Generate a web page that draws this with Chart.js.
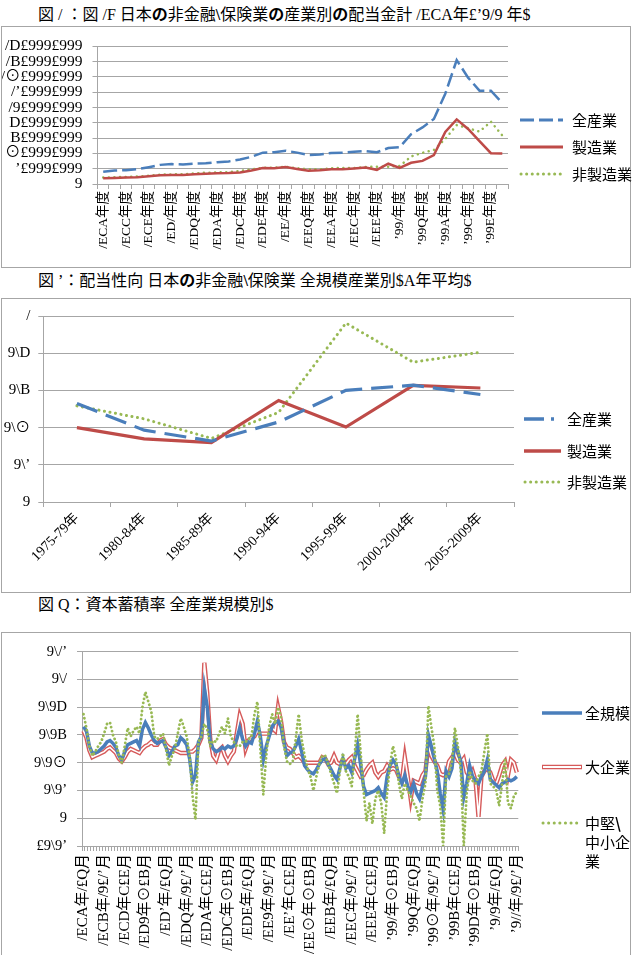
<!DOCTYPE html>
<html lang="ja">
<head>
<meta charset="utf-8">
<script src="https://cdn.jsdelivr.net/npm/chart.js@4.4.1/dist/chart.umd.min.js"></script>
<style>
  body { margin: 0; width: 632px; height: 955px; overflow: hidden; background: #fff; position: relative;
         font-family: 'Liberation Serif', 'Noto Sans CJK JP', serif; color: #000; }
  .title { position: absolute; left: 38px; font-size: 16px; line-height: 20px; white-space: nowrap; }
  .box { position: absolute; left: 1px; width: 628px; border: 1px solid #a6a6a6; background: #fff; }
  .box canvas { position: absolute; left: 0; top: 0; }
  .leg { position: absolute; font-family: 'Noto Sans CJK JP', sans-serif; font-size: 15px; line-height: 19px; white-space: nowrap; }
  #legendLines { position: absolute; left: 0; top: 0; }
</style>
</head>
<body>

<div class="title" style="top:5px">図 / ：図 /F 日本<b>の</b>非金融<b>\</b>保険業<b>の</b>産業別<b>の</b>配当金計 /ECA年£ʼ9/9 年$</div>
<div class="box" style="top:26px;height:240px"><canvas id="chart1" width="628" height="240"></canvas></div>

<div class="title" style="top:271px">図 ʼ：配当性向 日本<b>の</b>非金融<b>\</b>保険業 全規模産業別$A年平均$</div>
<div class="box" style="top:298px;height:293px"><canvas id="chart2" width="628" height="293"></canvas></div>

<div class="title" style="top:595px">図 Q：資本蓄積率 全産業規模別$</div>
<div class="box" style="top:632px;height:330px"><canvas id="chart3" width="628" height="322"></canvas></div>

<svg id="legendLines" width="632" height="955">
  <!-- chart 1 -->
  <line x1="520" y1="120" x2="563" y2="120" stroke="#4a7ebb" stroke-width="3" stroke-dasharray="14 5"/>
  <line x1="520" y1="147" x2="563" y2="147" stroke="#be4b48" stroke-width="3"/>
  <line x1="521" y1="174" x2="563" y2="174" stroke="#98b954" stroke-width="3" stroke-dasharray="0.1 5.5" stroke-linecap="round"/>
  <!-- chart 2 -->
  <line x1="524" y1="419" x2="561" y2="419" stroke="#4a7ebb" stroke-width="3.5" stroke-dasharray="20 7 3 7"/>
  <line x1="524" y1="451" x2="561" y2="451" stroke="#be4b48" stroke-width="3.5"/>
  <line x1="525" y1="482" x2="561" y2="482" stroke="#98b954" stroke-width="3" stroke-dasharray="0.1 5.5" stroke-linecap="round"/>
  <!-- chart 3 -->
  <line x1="542" y1="713" x2="582" y2="713" stroke="#4a7ebb" stroke-width="3.5"/>
  <line x1="542" y1="767" x2="582" y2="767" stroke="#d65a5a" stroke-width="4.5"/>
  <line x1="543" y1="767" x2="581" y2="767" stroke="#fff" stroke-width="1.8"/>
  <line x1="543" y1="823" x2="582" y2="823" stroke="#98b954" stroke-width="3" stroke-dasharray="0.1 5.5" stroke-linecap="round"/>
</svg>

<div class="leg" style="left:572px;top:110px">全産業</div>
<div class="leg" style="left:572px;top:137px">製造業</div>
<div class="leg" style="left:572px;top:164px">非製造業</div>

<div class="leg" style="left:567px;top:409px">全産業</div>
<div class="leg" style="left:567px;top:441px">製造業</div>
<div class="leg" style="left:567px;top:472px">非製造業</div>

<div class="leg" style="left:585px;top:703px">全規模</div>
<div class="leg" style="left:585px;top:757px">大企業</div>
<div class="leg" style="left:585px;top:813px">中堅<b>\</b><br>中小企<br>業</div>

<script>
// ---- chart 1 data: dividends by industry (yen), fiscal years 1975-2010
const fiscalYears1 = [1975, 1976, 1977, 1978, 1979, 1980, 1981, 1982, 1983, 1984, 1985, 1986,
                      1987, 1988, 1989, 1990, 1991, 1992, 1993, 1994, 1995, 1996, 1997, 1998,
                      1999, 2000, 2001, 2002, 2003, 2004, 2005, 2006, 2007, 2008, 2009, 2010];
const allIndustry1 = [1600000, 1760000, 1800000, 1930000, 2200000, 2500000, 2600000, 2550000, 2650000, 2700000,
                      2850000, 2950000, 3200000, 3550000, 4100000, 4150000, 4350000, 4100000, 3800000, 3850000,
                      4050000, 4100000, 4200000, 4300000, 4150000, 4700000, 4800000, 6500000, 7400000, 8500000,
                      11800000, 16200000, 13900000, 12200000, 12200000, 10600000];
const manufacturing1 = [760000, 800000, 840000, 880000, 1000000, 1130000, 1180000, 1180000, 1260000, 1340000,
                        1390000, 1430000, 1510000, 1760000, 2100000, 2060000, 2230000, 1970000, 1720000, 1800000,
                        1930000, 1930000, 2020000, 2140000, 1850000, 2650000, 2100000, 2770000, 3020000, 3780000,
                        6800000, 8450000, 7200000, 5600000, 4030000, 4000000];
const nonManufacturing1 = [840000, 880000, 920000, 970000, 1090000, 1220000, 1260000, 1260000, 1390000, 1470000,
                           1510000, 1550000, 1720000, 1930000, 2100000, 2140000, 2270000, 2060000, 1930000, 1930000,
                           2060000, 2100000, 2100000, 2230000, 2270000, 2270000, 2350000, 3600000, 4080000, 4450000,
                           5900000, 7700000, 7300000, 6850000, 8150000, 6350000];
const yearTickLabels1 = ['/ECA年度', '/ECC年度', '/ECE年度', '/ED/年度', '/EDQ年度', '/EDA年度', '/EDC年度', '/EDE年度',
                         '/EE/年度', '/EEQ年度', '/EEA年度', '/EEC年度', '/EEE年度', 'ʼ99/年度', 'ʼ99Q年度', 'ʼ99A年度',
                         'ʼ99C年度', 'ʼ99E年度'];
const yTickLabels1 = ['9', 'ʼ£999£999', '⊙£999£999', 'B£999£999', 'D£999£999', '/9£999£999',
                      '/ʼ£999£999', '/⊙£999£999', '/B£999£999', '/D£999£999'];

// ---- chart 2 data: payout ratio, 5-year averages
const periods2 = ['1975-79年', '1980-84年', '1985-89年', '1990-94年', '1995-99年', '2000-2004年', '2005-2009年'];
const allIndustry2 = [0.53, 0.386, 0.328, 0.43, 0.60, 0.628, 0.578];
const manufacturing2 = [0.40, 0.339, 0.319, 0.546, 0.403, 0.627, 0.613];
const nonManufacturing2 = [0.517, 0.447, 0.342, 0.482, 0.962, 0.752, 0.805];
const yTickLabels2 = ['9', '9\\ʼ', '9\\⊙', '9\\B', '9\\D', '/'];

// ---- chart 3 data: capital accumulation rate, quarterly 1975 Q1 - 2011 Q4
const allSizes3 = [
  .066, .063, .052, .047, .047, .048, .050, .052, .055, .056,
  .054, .051, .045, .042, .048, .053, .054, .055, .056, .052,
  .064, .069, .065, .060, .056, .054, .055, .056, .051, .045,
  .048, .052, .053, .058, .056, .053, .043, .026, .031, .055,
  .059, .094, .080, .055, .050, .048, .049, .051, .050, .052,
  .051, .052, .057, .065, .057, .052, .055, .054, .061, .070,
  .059, .042, .052, .059, .066, .069, .070, .066, .055, .045,
  .047, .048, .052, .057, .048, .038, .035, .033, .032, .035,
  .039, .042, .043, .039, .035, .031, .028, .036, .043, .036,
  .038, .033, .043, .053, .039, .023, .017, .018, .019, .020,
  .022, .018, .015, .030, .038, .042, .039, .030, .025, .031,
  .023, .019, .025, .018, .014, .023, .030, .060, .052, .043,
  .034, .018, .006, .034, .030, .036, .055, .048, .041, .015,
  .025, .038, .030, .027, .025, .030, .034, .042, .028, .026,
  .024, .022, .025, .026, .028, .027, .028, .030];
const large3 = [
  .063, .058, .049, .044, .045, .046, .047, .048, .050, .051,
  .049, .047, .043, .041, .044, .048, .050, .049, .048, .047,
  .050, .052, .053, .055, .053, .053, .056, .057, .053, .051,
  .050, .049, .048, .047, .047, .047, .048, .048, .050, .053,
  .058, .112, .090, .057, .045, .042, .049, .051, .045, .041,
  .045, .048, .061, .074, .068, .050, .056, .058, .059, .063,
  .061, .061, .061, .061, .065, .063, .080, .070, .055, .051,
  .050, .047, .044, .045, .043, .040, .040, .040, .040, .040,
  .040, .044, .043, .039, .040, .045, .040, .039, .042, .039,
  .042, .044, .038, .034, .030, .031, .035, .038, .040, .033,
  .030, .033, .034, .038, .035, .036, .035, .030, .027, .044,
  .030, .014, .027, .026, .025, .031, .034, .052, .045, .041,
  .038, .032, .031, .032, .041, .044, .047, .042, .040, .043,
  .033, .030, .034, .027, .001, .030, .034, .036, .033, .027,
  .025, .031, .038, .041, .031, .042, .040, .033];
const smallMedium3 = [
  .075, .065, .052, .045, .048, .052, .055, .061, .068, .069,
  .060, .055, .045, .040, .052, .065, .059, .063, .066, .061,
  .080, .091, .084, .077, .059, .057, .059, .061, .050, .038,
  .045, .050, .061, .072, .066, .059, .045, .016, -.001, .055,
  .059, .068, .064, .052, .056, .055, .061, .066, .061, .072,
  .059, .055, .052, .052, .055, .055, .057, .059, .075, .084,
  .050, .017, .045, .066, .075, .068, .080, .073, .052, .041,
  .039, .041, .057, .075, .057, .045, .036, .030, .020, .030,
  .039, .045, .045, .039, .032, .025, .018, .034, .047, .034,
  .030, .023, .045, .075, .048, .020, -.002, .011, -.004, .014,
  .020, .011, -.011, .018, .039, .052, .043, .025, .014, .025,
  .020, .016, .011, .007, -.002, .014, .025, .081, .066, .052,
  .020, .009, -.020, .030, .032, .041, .065, .052, .034, -.020,
  .018, .034, .027, .025, .030, .034, .048, .061, .025, .023,
  .020, .009, .025, .042, .011, .007, .016, .019];
const quarterTickLabels3 = ['/ECA年/£Q月', '/ECB年/9£/ʼ月', '/ECD年C£E月', '/ED9年⊙£B月', '/EDʼ年/£Q月',
  '/EDQ年/9£/ʼ月', '/EDA年C£E月', '/EDC年⊙£B月', '/EDE年/£Q月', '/EE9年/9£/ʼ月', '/EEʼ年C£E月',
  '/EE⊙年⊙£B月', '/EEB年/£Q月', '/EEC年/9£/ʼ月', '/EEE年C£E月', 'ʼ99/年⊙£B月', 'ʼ99Q年/£Q月',
  'ʼ99⊙年/9£/ʼ月', 'ʼ99B年C£E月', 'ʼ99D年⊙£B月', 'ʼ9/9年/£Q月', 'ʼ9//年/9£/ʼ月'];
const yTickLabels3 = ['£9\\9ʼ', '9', '9\\9ʼ', '9\\9⊙', '9\\9B', '9\\9D', '9\\/', '9\\/ʼ'];

// Colours
const BLUE = '#4a7ebb';
const RED = '#be4b48';
const GREEN = '#98b954';
const GRID = '#a6a6a6';

Chart.defaults.font.family = "'Liberation Serif', 'Noto Sans CJK JP', serif";
Chart.defaults.color = '#000';
Chart.defaults.animation = false;

// y axis with fixed width and label lookup
function makeYAxis(min, max, step, labels, width, fontSize, pad) {
    return {
        min: min,
        max: max,
        afterFit: function(scale) { scale.width = width; },
        grid: { color: GRID, lineWidth: 1, tickLength: 5 },
        border: { color: GRID },
        ticks: {
            stepSize: step,
            autoSkip: false,
            padding: pad,
            font: { size: fontSize },
            callback: function(v) { return labels[Math.round((v - min) / step)]; }
        }
    };
}

// category x axis with tick marks between categories
function makeXAxis(height, fontSize, rotation, pad, callback) {
    const axis = {
        offset: true,
        afterFit: function(scale) { scale.height = height; },
        grid: { offset: true, drawOnChartArea: false, tickLength: 5, color: GRID },
        border: { color: GRID },
        ticks: { autoSkip: false, minRotation: rotation, maxRotation: rotation, padding: pad, font: { size: fontSize } }
    };
    if (callback) axis.ticks.callback = callback;
    return axis;
}

function baseOptions(padding, xAxis, yAxis) {
    return {
        responsive: false,
        devicePixelRatio: 1,
        layout: { padding: padding, autoPadding: false },
        plugins: { legend: { display: false }, tooltip: { enabled: false } },
        elements: { point: { radius: 0 }, line: { tension: 0 } },
        scales: { x: xAxis, y: yAxis }
    };
}

// Chart 1
new Chart(document.getElementById('chart1').getContext('2d'), {
    type: 'line',
    data: {
        labels: fiscalYears1,
        datasets: [
            { label: '全産業', data: allIndustry1, borderColor: BLUE, borderWidth: 2.5, borderDash: [14, 5] },
            { label: '製造業', data: manufacturing1, borderColor: RED, borderWidth: 2.5 },
            { label: '非製造業', data: nonManufacturing1, borderColor: GREEN, borderWidth: 2.5,
              borderDash: [0.1, 5.5], borderCapStyle: 'round' }
        ]
    },
    options: baseOptions(
        { left: 0, right: 122, top: 14, bottom: 0 },
        makeXAxis(83, 13.5, 90, 2, function(v, i) { return i % 2 === 0 ? yearTickLabels1[i / 2] : ''; }),
        makeYAxis(0, 18000000, 2000000, yTickLabels1, 95.5, 15.5, 10)
    )
});

// Chart 2
new Chart(document.getElementById('chart2').getContext('2d'), {
    type: 'line',
    data: {
        labels: periods2,
        datasets: [
            { label: '全産業', data: allIndustry2, borderColor: BLUE, borderWidth: 3.2, borderDash: [22, 9] },
            { label: '製造業', data: manufacturing2, borderColor: RED, borderWidth: 3.2 },
            { label: '非製造業', data: nonManufacturing2, borderColor: GREEN, borderWidth: 3,
              borderDash: [0.1, 5.5], borderCapStyle: 'round' }
        ]
    },
    options: baseOptions(
        { left: 0, right: 116, top: 12, bottom: 0 },
        makeXAxis(90, 14, 45, 3, null),
        makeYAxis(0, 1, 0.2, yTickLabels2, 41.3, 15, 8)
    )
});

// Chart 3
new Chart(document.getElementById('chart3').getContext('2d'), {
    type: 'line',
    data: {
        labels: allSizes3.map(function(v, i) { return i; }),
        datasets: [
            { label: '中堅・中小企業', data: smallMedium3, borderColor: GREEN, borderWidth: 2.8,
              borderDash: [0.1, 4], borderCapStyle: 'round', order: 0 },
            { label: '全規模', data: allSizes3, borderColor: BLUE, borderWidth: 3.5, order: 1 },
            { label: '大企業', data: large3, borderColor: '#fff', borderWidth: 1.6, order: 2 },
            { label: '大企業', data: large3, borderColor: '#d65a5a', borderWidth: 4.4, order: 3 }
        ]
    },
    options: baseOptions(
        { left: 0, right: 111.7, top: 7.7, bottom: 0 },
        makeXAxis(109, 15, 90, 3, function(v, i) { return i % 7 === 0 ? quarterTickLabels3[i / 7] : ''; }),
        makeYAxis(-0.02, 0.12, 0.02, yTickLabels3, 80, 14.5, 10)
    )
});
</script>
</body>
</html>
